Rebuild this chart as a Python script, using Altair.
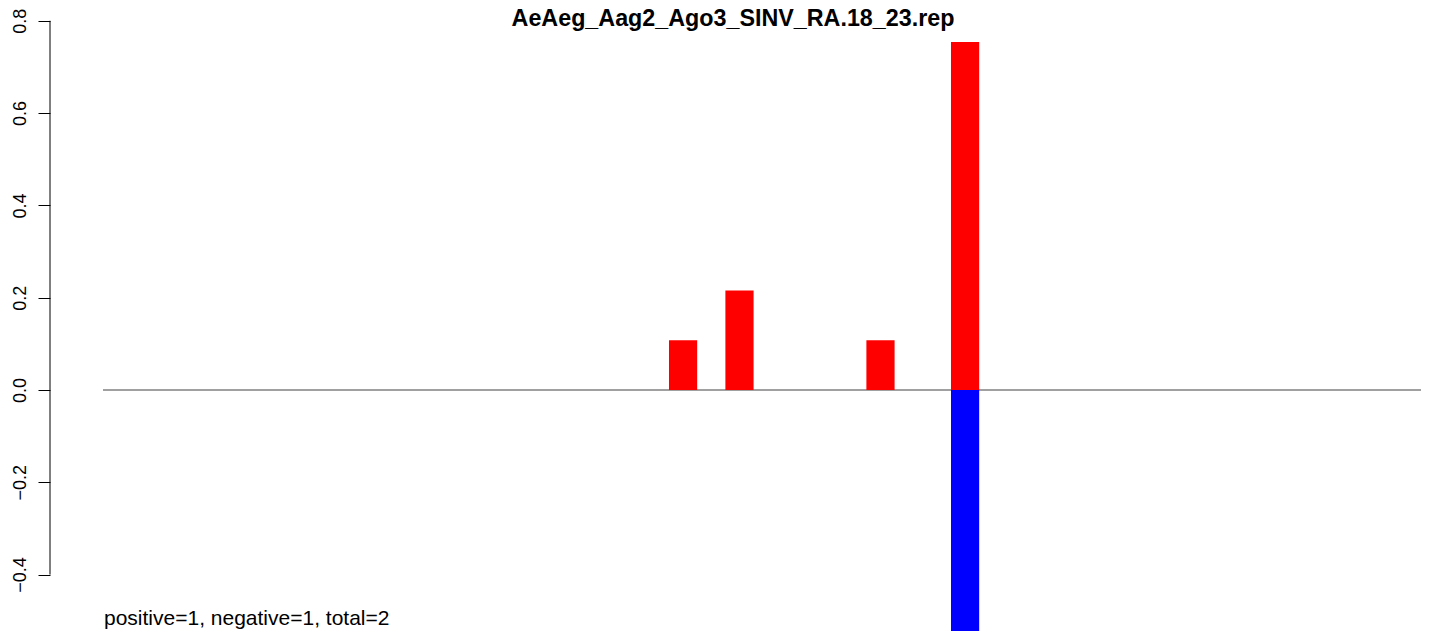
import altair as alt
import pandas as pd

title_text = "AeAeg_Aag2_Ago3_SINV_RA.18_23.rep"
footer_text = "positive=1, negative=1, total=2"

# bar positions (slot index) and heights
pos_positions = [20, 22, 27, 30]
pos_values = [0.1077, 0.2154, 0.1077, 0.7538]
neg_positions = [30]
neg_values = [-0.7538]
strands = ["positive"] * len(pos_positions) + ["negative"] * len(neg_positions)

y_ticks = [-0.4, -0.2, 0.0, 0.2, 0.4, 0.6, 0.8]
x_domain = [-1.95, 46.667]
y_domain = [-0.5222, 0.8277]
line_start = -0.07

bars = pd.DataFrame({
    "pos": pos_positions + neg_positions,
    "end": [p + 1 for p in pos_positions + neg_positions],
    "value": pos_values + neg_values,
    "base": [0.0] * (len(pos_positions) + len(neg_positions)),
    "strand": strands,
})

W, H = 1371, 623
FONT = "Liberation Sans"

xs = alt.Scale(domain=x_domain, nice=False, zero=False)
ys = alt.Scale(domain=y_domain, nice=False, zero=False)

bar = alt.Chart(bars).mark_bar(clip=True).encode(
    x=alt.X("pos:Q", scale=xs, axis=None),
    x2="end:Q",
    y=alt.Y("value:Q", scale=ys, title=None,
            axis=alt.Axis(values=y_ticks, format=".1f", domain=False, grid=False,
                          tickSize=12, tickColor="black", tickWidth=1,
                          labelAngle=270, labelAlign="center", labelBaseline="alphabetic",
                          labelPadding=13, labelFont=FONT, labelFontSize=18,
                          labelColor="black")),
    y2="base:Q",
    color=alt.Color("strand:N", legend=None,
                    scale=alt.Scale(domain=["positive", "negative"], range=["#FF0000", "#0000FF"])),
)

zero_line = alt.Chart(pd.DataFrame({"x": [line_start], "x2": [x_domain[1]], "y": [0.0]})).mark_rule(
    color="#808080", strokeWidth=1.3).encode(
    x=alt.X("x:Q", scale=xs, axis=None), x2="x2:Q", y=alt.Y("y:Q", scale=ys))

axis_line = alt.Chart(pd.DataFrame({"lo": [y_ticks[0]], "hi": [y_ticks[-1]], "x": [x_domain[0]]})).mark_rule(
    color="black", strokeWidth=1).encode(
    x=alt.X("x:Q", scale=xs, axis=None), y=alt.Y("lo:Q", scale=ys), y2="hi:Q")

title = alt.Chart(pd.DataFrame({"t": [title_text]})).mark_text(
    font=FONT, fontSize=23.3, fontWeight="bold", align="center", baseline="alphabetic",
    color="black").encode(text="t:N", x=alt.value(683), y=alt.value(18))

footer = alt.Chart(pd.DataFrame({"t": [footer_text]})).mark_text(
    font=FONT, fontSize=21, align="left", baseline="alphabetic",
    color="black").encode(text="t:N", x=alt.value(54), y=alt.value(617))

chart = alt.layer(zero_line, bar, axis_line, title, footer).properties(
    width=W, height=H,
    padding={"left": 42, "top": 0, "right": 0, "bottom": 0},
    autosize=alt.AutoSizeParams(type="none"),
).configure_view(stroke=None)

chart.save("out.html", embed_options={"renderer": "svg", "actions": False})
